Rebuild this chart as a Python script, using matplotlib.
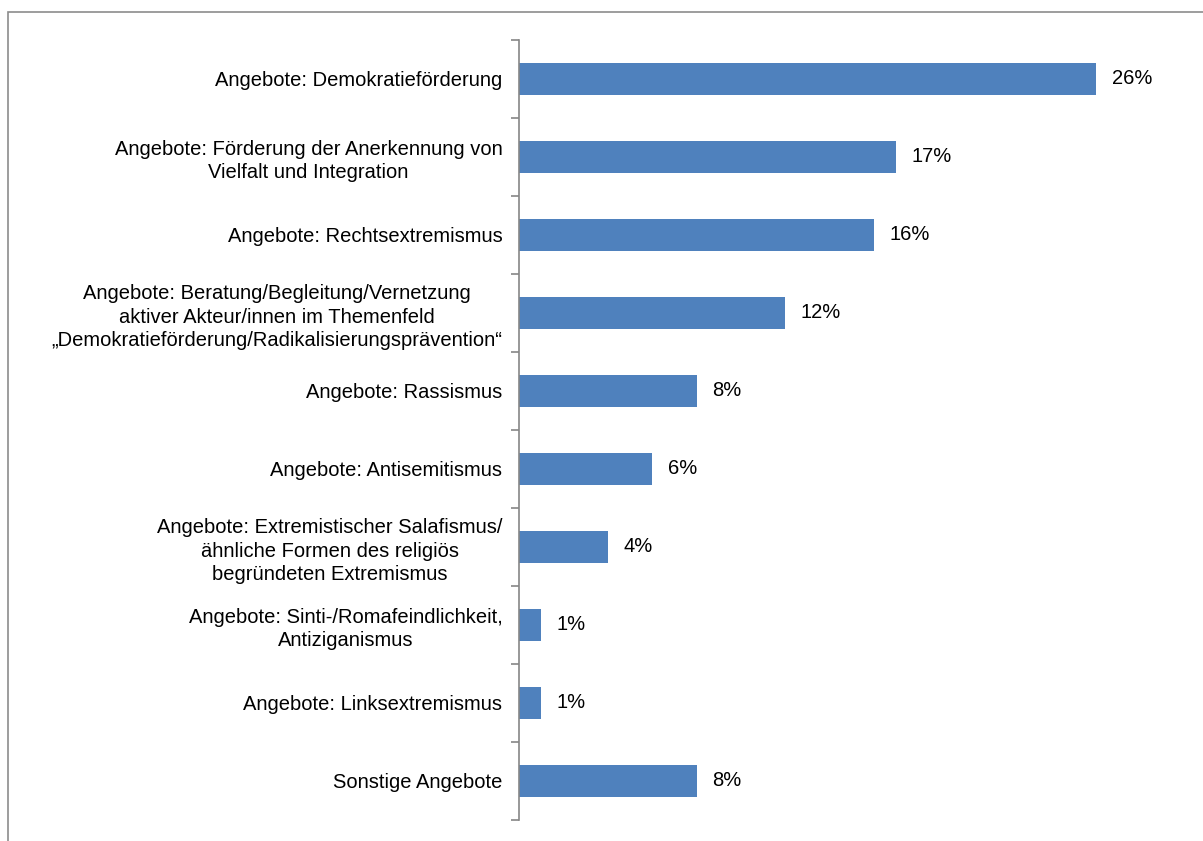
import matplotlib.pyplot as plt
from matplotlib.patches import Rectangle

plt.rcParams['font.family'] = ['Liberation Sans', 'DejaVu Sans']

kategorien = [
    'Angebote: Demokratieförderung',
    'Angebote: Förderung der Anerkennung von\nVielfalt und Integration',
    'Angebote: Rechtsextremismus',
    'Angebote: Beratung/Begleitung/Vernetzung\naktiver Akteur/innen im Themenfeld\n„Demokratieförderung/Radikalisierungsprävention“',
    'Angebote: Rassismus',
    'Angebote: Antisemitismus',
    'Angebote: Extremistischer Salafismus/\nähnliche Formen des religiös\nbegründeten Extremismus',
    'Angebote: Sinti-/Romafeindlichkeit,\nAntiziganismus',
    'Angebote: Linksextremismus',
    'Sonstige Angebote',
]
werte = [26, 17, 16, 12, 8, 6, 4, 1, 1, 8]

fig = plt.figure(figsize=(12.03, 8.41), dpi=100)
# Rahmen um das Diagramm
fig.patches.append(Rectangle((8 / 1203, -0.05), 1.2, 1 - 12 / 841 + 0.05,
                             transform=fig.transFigure, fill=False,
                             edgecolor='#8c8c8c', linewidth=1.2))

ax = fig.add_axes([519 / 1203, 1 - 820 / 841, (1185 - 519) / 1203, (820 - 40) / 841])

pos = list(range(len(werte)))
ax.barh(pos, werte, height=0.41, color='#4F81BD')
ax.set_ylim(len(werte) - 0.5, -0.5)
ax.set_xlim(0, 30)

for p, w in zip(pos, werte):
    ax.text(w + 0.7, p, f'{w}%', va='center', ha='left', fontsize=14.5)

ax.set_yticks(pos)
ax.set_yticklabels(kategorien, fontsize=14.5, linespacing=1.3)
ax.tick_params(axis='y', which='major', length=0, pad=12)
for lbl in ax.get_yticklabels():
    lbl.set_multialignment('center')
ax.set_yticks([i - 0.5 for i in range(len(werte) + 1)], minor=True)
ax.tick_params(axis='y', which='minor', length=6, width=1.2, color='#868686')

ax.set_xticks([])
for s in ['top', 'right', 'bottom']:
    ax.spines[s].set_visible(False)
ax.spines['left'].set_color('#868686')
ax.spines['left'].set_linewidth(1.2)

fig.savefig('out.png', dpi=100)
